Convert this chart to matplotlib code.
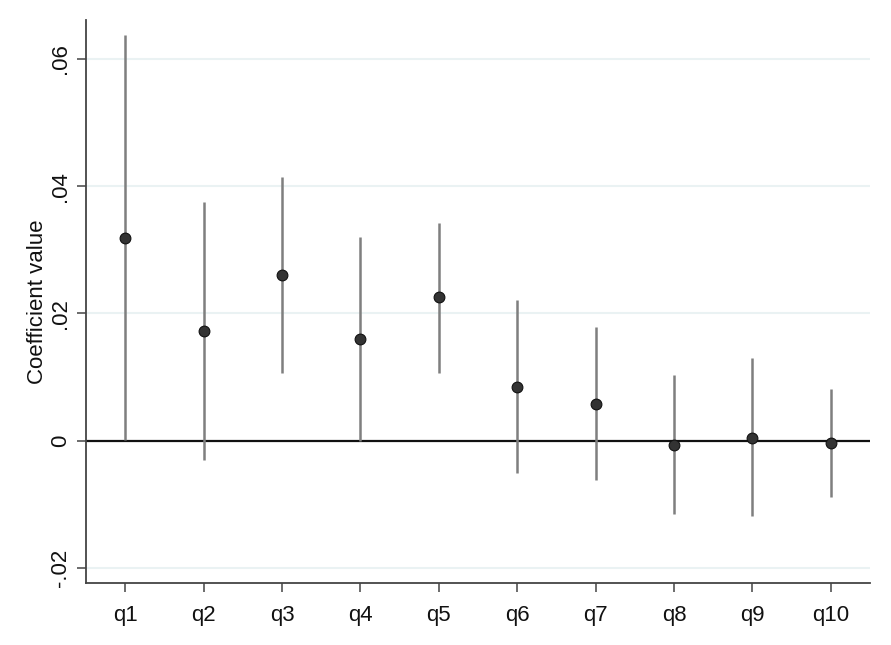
import matplotlib
matplotlib.use("Agg")
import matplotlib.pyplot as plt
import numpy as np

plt.rcParams['font.family'] = ['Liberation Sans', 'DejaVu Sans']

categories = ["q1", "q2", "q3", "q4", "q5", "q6", "q7", "q8", "q9", "q10"]
coef = [0.0319, 0.0173, 0.0261, 0.0160, 0.0226, 0.0085, 0.0057, -0.0007, 0.0005, -0.0004]
ci_low = [0.0001, -0.0030, 0.0107, 0.0000, 0.0106, -0.0051, -0.0062, -0.0115, -0.0118, -0.0089]
ci_high = [0.0638, 0.0375, 0.0415, 0.0320, 0.0342, 0.0221, 0.0179, 0.0103, 0.0130, 0.0082]
yticks = [-0.02, 0, 0.02, 0.04, 0.06]
ytick_labels = ["-.02", "0", ".02", ".04", ".06"]

fig = plt.figure(figsize=(8.91, 6.45), dpi=100)
ax = fig.add_axes([86/891, 1-583/645, (870-86)/891, (583-20)/645])

x = np.arange(1, len(categories)+1)
ax.set_xlim(0.5, 10.5)
ax.set_ylim(-0.02236, 0.0661)

for yt in yticks:
    if yt != 0:
        ax.axhline(yt, color='#eaf2f3', lw=1.5, zorder=0)
ax.axhline(0, color='#111111', lw=1.6, zorder=1)

ax.vlines(x, ci_low, ci_high, color='#7f7f7f', lw=1.8, zorder=2)
ax.scatter(x, coef, s=60, color='#333333', edgecolor='#111111', linewidths=0.8, zorder=3)

for s in ['top', 'right']:
    ax.spines[s].set_visible(False)
for s in ['left', 'bottom']:
    ax.spines[s].set_color('#444444')
    ax.spines[s].set_linewidth(1.3)

fs = 16
ax.set_xticks(x)
ax.set_xticklabels(categories, fontsize=fs, color='#111111')
ax.set_yticks(yticks)
ax.set_yticklabels(ytick_labels, fontsize=fs, color='#111111', rotation=90, va='center')
ax.tick_params(axis='both', length=6.5, width=1.1, color='#444444')
ax.tick_params(axis='x', pad=9)
ax.tick_params(axis='y', pad=4)
ax.set_ylabel("Coefficient value", fontsize=fs, color='#111111', labelpad=2)

fig.savefig("out.png", dpi=100, facecolor='white')
